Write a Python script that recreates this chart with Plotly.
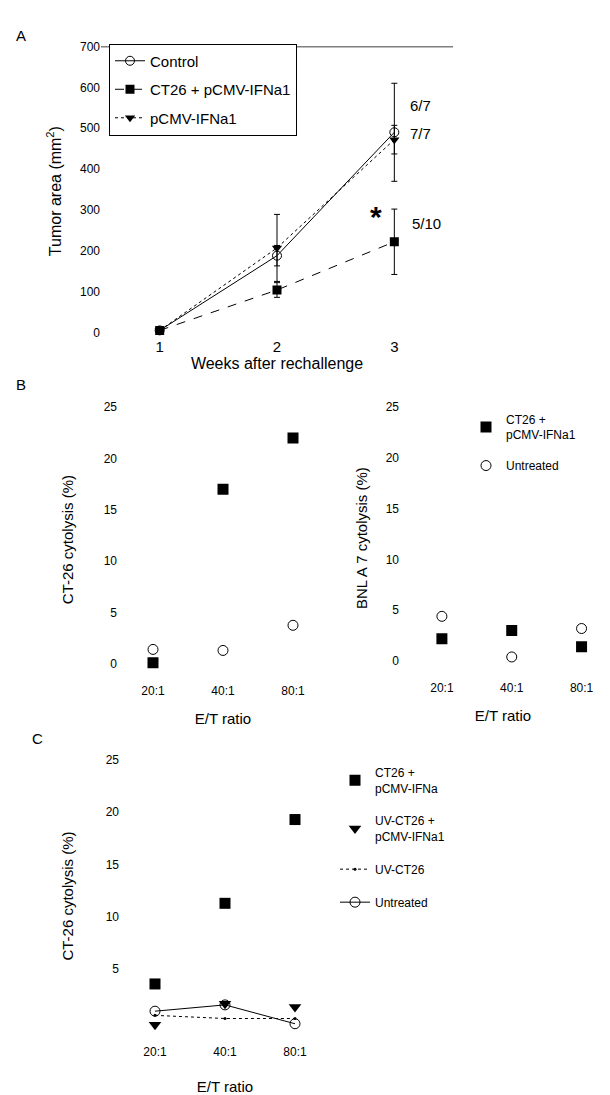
import plotly.graph_objects as go

W, H = 610, 1095
FONT = "Arial, Liberation Sans, sans-serif"

# ---------- data ----------
weeks = [1, 2, 3]
control = [5, 188, 490]
control_err = [3, 25, 120]
ct26 = [5, 104, 222]
ct26_err = [3, 18, 80]
pcmv = [5, 207, 472]
pcmv_err = [3, 82, 35]
a_ratios = ["6/7", "7/7", "5/10"]

et = ["20:1", "40:1", "80:1"]
b_ct26_vacc = [0.1, 17.0, 22.0]
b_ct26_untr = [1.4, 1.3, 3.75]
b_bnl_vacc = [2.2, 3.0, 1.4]
b_bnl_untr = [4.4, 0.4, 3.2]

c_ct26_pcmv = [3.6, 11.3, 19.3]
c_uv_pcmv = [-0.3, 1.7, 1.4]
c_uv = [0.6, 0.3, 0.3]
c_untr = [1.0, 1.6, -0.2]


def px_x(p):
    return p / W


def px_y(p):
    return 1 - p / H


fig = go.Figure()
blk = "black"

# ---------- Panel A ----------
fig.add_trace(go.Scatter(
    x=weeks, y=control, name="Control", xaxis="x", yaxis="y",
    mode="lines+markers", line=dict(color=blk, width=1),
    marker=dict(symbol="circle-open", size=9, color=blk, line=dict(width=1)),
    error_y=dict(type="data", array=control_err, color=blk, thickness=1, width=3),
    legend="legend", legendgroup="a1"))
fig.add_trace(go.Scatter(
    x=weeks, y=ct26, name="CT26 + pCMV-IFNa1", xaxis="x", yaxis="y",
    mode="lines+markers", line=dict(color=blk, width=1, dash="dash"),
    marker=dict(symbol="square", size=9, color=blk),
    error_y=dict(type="data", array=ct26_err, color=blk, thickness=1, width=3),
    legend="legend", legendgroup="a2"))
fig.add_trace(go.Scatter(
    x=weeks, y=pcmv, name="pCMV-IFNa1", xaxis="x", yaxis="y",
    mode="lines+markers", line=dict(color=blk, width=1, dash="dot"),
    marker=dict(symbol="triangle-down", size=9, color=blk),
    error_y=dict(type="data", array=pcmv_err, color=blk, thickness=1, width=3),
    legend="legend", legendgroup="a3"))

# ---------- Panel B left ----------
fig.add_trace(go.Scatter(
    x=et, y=b_ct26_vacc, name="CT26 +<br>pCMV-IFNa1", xaxis="x2", yaxis="y2",
    mode="markers", marker=dict(symbol="square", size=11, color=blk),
    showlegend=False))
fig.add_trace(go.Scatter(
    x=et, y=b_ct26_untr, name="Untreated", xaxis="x2", yaxis="y2",
    mode="markers", marker=dict(symbol="circle-open", size=10, color=blk, line=dict(width=1)),
    showlegend=False))

# ---------- Panel B right ----------
fig.add_trace(go.Scatter(
    x=et, y=b_bnl_vacc, name="CT26 +<br>pCMV-IFNa1", xaxis="x3", yaxis="y3",
    mode="markers", marker=dict(symbol="square", size=11, color=blk),
    legend="legend2", legendgroup="b1"))
fig.add_trace(go.Scatter(
    x=et, y=b_bnl_untr, name="Untreated", xaxis="x3", yaxis="y3",
    mode="markers", marker=dict(symbol="circle-open", size=10, color=blk, line=dict(width=1)),
    legend="legend2", legendgroup="b2"))

# ---------- Panel C ----------
fig.add_trace(go.Scatter(
    x=et, y=c_ct26_pcmv, name="CT26 +<br>pCMV-IFNa", xaxis="x4", yaxis="y4",
    mode="markers", marker=dict(symbol="square", size=11, color=blk),
    legend="legend3", legendgroup="c1"))
fig.add_trace(go.Scatter(
    x=et, y=c_uv_pcmv, name="UV-CT26 +<br>pCMV-IFNa1", xaxis="x4", yaxis="y4",
    mode="markers", marker=dict(symbol="triangle-down", size=11, color=blk),
    legend="legend3", legendgroup="c2"))
fig.add_trace(go.Scatter(
    x=et, y=c_uv, name="UV-CT26", xaxis="x4", yaxis="y4",
    mode="lines+markers", line=dict(color=blk, width=1, dash="dot"),
    marker=dict(symbol="circle", size=3, color=blk),
    legend="legend3", legendgroup="c3"))
fig.add_trace(go.Scatter(
    x=et, y=c_untr, name="Untreated", xaxis="x4", yaxis="y4",
    mode="lines+markers", line=dict(color=blk, width=1),
    marker=dict(symbol="circle-open", size=10, color=blk, line=dict(width=1)),
    legend="legend3", legendgroup="c4"))

tickfont = dict(family=FONT, size=12, color=blk)
titlefont = dict(family=FONT, size=15, color=blk)

common_x = dict(showgrid=False, zeroline=False, showline=False, ticks="",
                tickfont=tickfont, title_font=titlefont)
common_y = dict(showgrid=False, zeroline=False, showline=False, ticks="",
                tickfont=tickfont, title_font=titlefont)

layout = dict(
    width=W, height=H, margin=dict(l=0, r=0, t=0, b=0),
    paper_bgcolor="white", plot_bgcolor="white",
    font=dict(family=FONT, color=blk),
    # A
    xaxis=dict(common_x, domain=[px_x(101), px_x(453)], range=[0.5, 3.5],
               tickvals=weeks, ticktext=[str(w) for w in weeks],
               tickfont=dict(family=FONT, size=15, color=blk),
               title=dict(text="Weeks after rechallenge", standoff=0, font=dict(family=FONT, size=16, color=blk)),
               anchor="y"),
    yaxis=dict(common_y, domain=[px_y(333), px_y(40)], range=[-8, 700],
               tickvals=[0, 100, 200, 300, 400, 500, 600, 700],
               title=dict(text="Tumor area (mm<sup>2</sup>)", standoff=14, font=dict(family=FONT, size=16, color=blk)),
               anchor="x"),
    # B left
    xaxis2=dict(common_x, domain=[px_x(118), px_x(328)], range=[-0.5, 2.5],
                type="category", title=dict(text="E/T ratio", standoff=16), anchor="y2"),
    yaxis2=dict(common_y, domain=[px_y(684), px_y(395)], range=[-1.8, 26],
                tickvals=[0, 5, 10, 15, 20, 25],
                title=dict(text="CT-26 cytolysis (%)", standoff=26), anchor="x2"),
    # B right
    xaxis3=dict(common_x, domain=[px_x(400), px_x(606)], range=[-0.6, 2.35],
                type="category", title=dict(text="E/T ratio", standoff=16), anchor="y3"),
    yaxis3=dict(common_y, domain=[px_y(681), px_y(395)], range=[-1.8, 26],
                tickvals=[0, 5, 10, 15, 20, 25],
                title=dict(text="BNL A 7 cytolysis (%)", standoff=14), anchor="x3"),
    # C
    xaxis4=dict(common_x, domain=[px_x(120), px_x(330)], range=[-0.5, 2.5],
                type="category", title=dict(text="E/T ratio", standoff=26), anchor="y4"),
    yaxis4=dict(common_y, domain=[px_y(1049), px_y(752)], range=[-2, 26],
                tickvals=[5, 10, 15, 20, 25],
                title=dict(text="CT-26 cytolysis (%)", standoff=28), anchor="x4"),
    legend=dict(x=px_x(109), y=px_y(37), xanchor="left", yanchor="top",
                bordercolor=blk, borderwidth=1, bgcolor="white",
                font=dict(family=FONT, size=15, color=blk), tracegroupgap=6,
                itemwidth=30),
    legend2=dict(x=px_x(466), y=px_y(403), xanchor="left", yanchor="top",
                 bgcolor="rgba(0,0,0,0)", font=dict(family=FONT, size=12, color=blk),
                 tracegroupgap=12, itemwidth=30),
    legend3=dict(x=px_x(335), y=px_y(761), xanchor="left", yanchor="top",
                 bgcolor="rgba(0,0,0,0)", font=dict(family=FONT, size=12, color=blk),
                 tracegroupgap=14, itemwidth=30),
)
fig.update_layout(**layout)

# top frame line of panel A
fig.add_shape(type="line", xref="x domain", yref="y", x0=0, x1=1, y0=700, y1=700,
              line=dict(color=blk, width=1.5))

# annotations panel A
ann = [
    dict(x=3.12, y=556, text=a_ratios[0]),
    dict(x=3.12, y=488, text=a_ratios[1]),
    dict(x=3.13, y=267, text=a_ratios[2]),
]
for a in ann:
    fig.add_annotation(xref="x", yref="y", x=a["x"], y=a["y"], text=a["text"],
                       showarrow=False, xanchor="left",
                       font=dict(family=FONT, size=15, color=blk))
fig.add_annotation(xref="x", yref="y", x=2.84, y=283, text="<b>*</b>", showarrow=False,
                   font=dict(family=FONT, size=30, color=blk))

# panel labels
for lbl, x, y in [("A", 14, 18), ("B", 14, 382), ("C", 30, 752)]:
    fig.add_annotation(xref="paper", yref="paper", x=px_x(x), y=px_y(y), text=lbl,
                       showarrow=False, font=dict(family=FONT, size=15, color=blk))

fig.write_html("out.html")
